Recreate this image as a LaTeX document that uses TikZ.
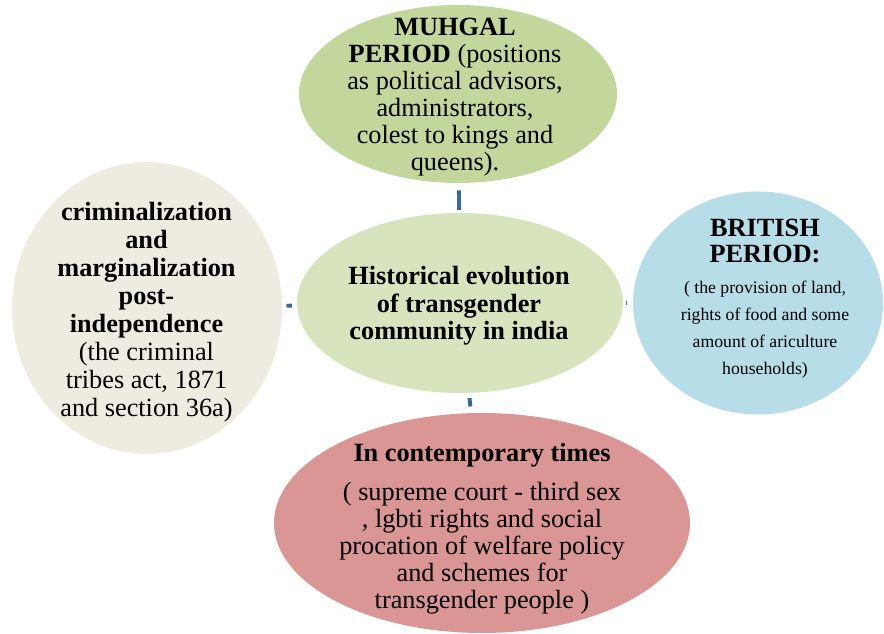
\documentclass[tikz,border=0pt]{standalone}
\usepackage{fontspec}
\IfFontExistsTF{LiberationSerif-Regular.ttf}
  {\setmainfont{LiberationSerif}[Extension=.ttf, UprightFont=*-Regular, BoldFont=*-Bold, ItalicFont=*-Italic, BoldItalicFont=*-BoldItalic]}
  {\setmainfont{Liberation Serif}}
\usetikzlibrary{shapes.geometric}
\definecolor{centregreen}{HTML}{D7E4BD}
\definecolor{mughalgreen}{HTML}{C3D69B}
\definecolor{britishblue}{HTML}{B7DDE8}
\definecolor{postgrey}{HTML}{EEECE1}
\definecolor{modernred}{HTML}{D99694}
\definecolor{linkblue}{HTML}{3B679A}
\begin{document}
\begin{tikzpicture}[
  blob/.style={ellipse, inner sep=0pt, draw=none},
  txt/.style={align=center, font=\rmfamily\fontsize{18.7}{19.2}\selectfont, inner sep=0pt},
  smalltxt/.style={align=center, font=\rmfamily\fontsize{12.6}{19.2}\selectfont, inner sep=0pt},
  link/.style={draw=linkblue, line width=2.8pt}
]
\useasboundingbox (0,0) rectangle (22.1,15.85);

\node[blob, fill=centregreen, minimum width=8.15cm, minimum height=4.5cm] (hub) at (11.5,8.275) {};
\node[blob, fill=mughalgreen, minimum width=7.95cm, minimum height=4.45cm] (mughal) at (11.45,13.5) {};
\node[blob, fill=britishblue, minimum width=6.25cm, minimum height=5.575cm] (british) at (18.95,8.275) {};
\node[blob, fill=postgrey, minimum width=6.75cm, minimum height=7.3cm] (postind) at (3.675,8.15) {};
\node[blob, fill=modernred, minimum width=10.4cm, minimum height=5.5cm] (modern) at (12.05,2.775) {};

\draw[link, shorten <=2pt, shorten >=5pt] (hub) -- (mughal);
\draw[link, shorten <=3.5pt, shorten >=4.5pt] (hub) -- (modern);
\draw[link, shorten <=3.5pt, shorten >=3pt] (hub) -- (postind);
\draw[link, shorten <=2.5pt, shorten >=4.5pt] (hub) -- (british);

\node[txt, font=\rmfamily\fontsize{18.7}{19.6}\selectfont\bfseries] (hubtext) at (11.475,8.2)
  {Historical evolution\\of transgender\\community in india};
\node[txt] (mughaltext) at (11.375,13.42)
  {\textbf{MUHGAL}\\\textbf{PERIOD} (positions\\as political advisors,\\administrators,\\colest to kings and\\queens).};
\node[txt, font=\rmfamily\fontsize{18.7}{18.5}\selectfont\bfseries] (britishtitle) at (19.125,9.825)
  {BRITISH\\PERIOD:};
\node[smalltxt] (britishtext) at (19.125,7.6)
  {( the provision of land,\\rights of food and some\\amount of ariculture\\households)};
\node[txt, font=\rmfamily\fontsize{18.7}{19.9}\selectfont] (postindtext) at (3.6625,8.05)
  {\textbf{criminalization}\\\textbf{and}\\\textbf{marginalization}\\\textbf{post-}\\\textbf{independence}\\(the criminal\\tribes act, 1871\\and section 36a)};
\node[txt, font=\rmfamily\fontsize{18.7}{19.2}\selectfont\bfseries] (moderntitle) at (12.05,4.475)
  {In contemporary times};
\node[txt] (moderntext) at (12.05,2.15)
  {( supreme court - third sex\\, lgbti rights and social\\procation of welfare policy\\and schemes for\\transgender people )};
\end{tikzpicture}
\end{document}
